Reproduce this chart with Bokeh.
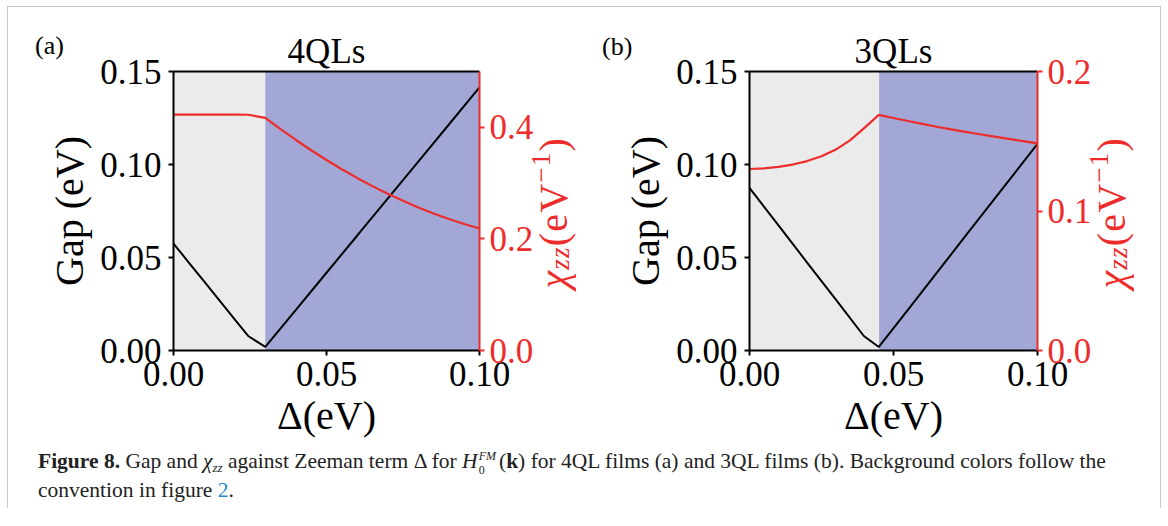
from bokeh.plotting import figure
from bokeh.models import LinearAxis, Range1d, FixedTicker, NumeralTickFormatter, Div
from bokeh.layouts import column, row
from bokeh.embed import file_html
from bokeh.resources import INLINE

# ---------------- data ----------------
x_lim = [0.0, 0.10]
gap_lim = [0.0, 0.15]
x_ticks = [0.0, 0.05, 0.10]
gap_ticks = [0.0, 0.05, 0.10, 0.15]

# panel (a) 4QLs
title_a = "4QLs"
boundary_a = 0.030
chi_lim_a = [0.0, 0.5]
chi_ticks_a = [0.0, 0.2, 0.4]
delta_gap_a = [0.0, 0.005, 0.010, 0.015, 0.020, 0.0244, 0.030, 0.040, 0.050, 0.060,
               0.070, 0.080, 0.090, 0.100]
gap_a = [0.0575, 0.0473, 0.0371, 0.0269, 0.0167, 0.0078, 0.0019, 0.0218, 0.0418, 0.0617,
         0.0817, 0.1016, 0.1215, 0.1415]
delta_chi_a = [0.0, 0.005, 0.010, 0.015, 0.020, 0.0244, 0.030, 0.035, 0.040, 0.045,
               0.050, 0.055, 0.060, 0.065, 0.070, 0.075, 0.080, 0.085, 0.090, 0.095, 0.100]
chi_a = [0.4228, 0.4228, 0.4228, 0.4228, 0.4227, 0.4225, 0.4170, 0.3967, 0.3773, 0.3589,
         0.3414, 0.3249, 0.3093, 0.2946, 0.2810, 0.2682, 0.2564, 0.2456, 0.2357, 0.2267, 0.2187]

# panel (b) 3QLs
title_b = "3QLs"
boundary_b = 0.045
chi_lim_b = [0.0, 0.2]
chi_ticks_b = [0.0, 0.1, 0.2]
delta_gap_b = [0.0, 0.010, 0.020, 0.030, 0.0397, 0.0449, 0.055, 0.065, 0.075, 0.085, 0.100]
gap_b = [0.0874, 0.0674, 0.0473, 0.0273, 0.0078, 0.0019, 0.0219, 0.0417, 0.0616, 0.0814, 0.1111]
delta_chi_b = [0.0, 0.005, 0.010, 0.015, 0.020, 0.025, 0.030, 0.035, 0.040, 0.0449,
               0.050, 0.055, 0.060, 0.065, 0.070, 0.075, 0.080, 0.085, 0.090, 0.095, 0.100]
chi_b = [0.1301, 0.1305, 0.1316, 0.1333, 0.1358, 0.1392, 0.1440, 0.1508, 0.1598, 0.1689,
         0.1667, 0.1645, 0.1624, 0.1604, 0.1585, 0.1567, 0.1550, 0.1533, 0.1517, 0.1501, 0.1485]

# ---------------- style ----------------
FONT = "Liberation Serif"
RED = "#EE2C2C"
GRAY = "#EBEBEB"
BLUE = "#A2A7D5"
PANEL_H = 441


def style_axis(ax, color="black"):
    ax.axis_line_color = color
    ax.axis_line_width = 2
    ax.major_tick_line_color = color
    ax.major_tick_line_width = 2
    ax.major_tick_in = 0
    ax.major_tick_out = 5
    ax.minor_tick_line_color = None
    ax.major_label_text_font = FONT
    ax.major_label_text_font_size = "35px"
    ax.major_label_text_color = color
    ax.axis_label_text_font = FONT
    ax.axis_label_text_font_size = "40px"
    ax.axis_label_text_font_style = "normal"
    ax.axis_label_text_color = color


def panel(title, dg, g, dc, c, boundary, chi_lim, chi_ticks, bl, fw, br):
    p = figure(width=bl + fw + br, height=PANEL_H, title=title,
               x_range=Range1d(x_lim[0], x_lim[1]), y_range=Range1d(gap_lim[0], gap_lim[1]),
               x_axis_type=None, y_axis_type=None,
               output_backend="svg", toolbar_location=None,
               min_border_left=bl, min_border_right=br, min_border_top=64, min_border_bottom=98)
    p.extra_y_ranges = {"chi": Range1d(chi_lim[0], chi_lim[1])}
    p.outline_line_color = None
    p.background_fill_color = "white"
    p.border_fill_color = "white"
    p.title.align = "center"
    p.title.text_font = FONT
    p.title.text_font_size = "35px"
    p.title.text_font_style = "normal"
    p.title.text_color = "black"
    p.title.standoff = 2

    # phase background regions
    p.quad(left=[x_lim[0], boundary], right=[boundary, x_lim[1]],
           bottom=gap_lim[0], top=gap_lim[1], fill_color=[GRAY, BLUE], line_color=None)

    p.line(dg, g, line_color="black", line_width=2)
    p.line(dc, c, line_color=RED, line_width=2.2, y_range_name="chi")

    xa = LinearAxis(ticker=FixedTicker(ticks=x_ticks), formatter=NumeralTickFormatter(format="0.00"),
                    axis_label="Δ(eV)")
    style_axis(xa)
    xa.major_label_standoff = 6
    xa.axis_label_standoff = 4
    p.add_layout(xa, "below")

    ya = LinearAxis(ticker=FixedTicker(ticks=gap_ticks), formatter=NumeralTickFormatter(format="0.00"),
                    axis_label="Gap (eV)")
    style_axis(ya)
    ya.major_label_standoff = 7
    ya.axis_label_standoff = 5
    p.add_layout(ya, "left")

    ra = LinearAxis(y_range_name="chi", ticker=FixedTicker(ticks=chi_ticks),
                    formatter=NumeralTickFormatter(format="0.0"))
    style_axis(ra, RED)
    ra.major_label_standoff = 5
    p.add_layout(ra, "right")

    ta = LinearAxis(ticker=FixedTicker(ticks=[]))
    style_axis(ta)
    ta.major_tick_out = 0
    ta.major_label_standoff = 0
    ta.major_label_text_font_size = "0px"
    p.add_layout(ta, "above")
    return p


def chi_label(width):
    html = (
        f'<div style="position:relative;width:{width}px;height:{PANEL_H}px;">'
        f'<div style="position:absolute;left:-6px;bottom:160px;writing-mode:vertical-rl;'
        f'transform:rotate(180deg);font-family:\'{FONT}\';font-size:40px;line-height:1;'
        f'letter-spacing:1.2px;color:{RED};white-space:nowrap;">'
        '<i>χ</i><span style="font-size:27px;line-height:0;vertical-align:-6px;"><i>zz</i></span>'
        '(eV<span style="font-size:27px;line-height:0;vertical-align:13px;">−1</span>)'
        '</div></div>')
    return Div(width=width, height=PANEL_H, margin=(0, 0, 0, 0), text=html)


pa = panel(title_a, delta_gap_a, gap_a, delta_chi_a, chi_a, boundary_a, chi_lim_a, chi_ticks_a,
           165, 306, 61)
ca = chi_label(52)
pb = panel(title_b, delta_gap_b, gap_b, delta_chi_b, chi_b, boundary_b, chi_lim_b, chi_ticks_b,
           157, 288, 61)
cb = chi_label(62)

tag_style = ("position:absolute;font-family:'Liberation Serif';font-size:26px;line-height:1;"
             "color:#000;white-space:nowrap;")
caption = Div(width=1150, height=60, margin=(0, 0, 0, 0), text=(
    '<div style="position:relative;width:1150px;height:60px;">'
    f'<div style="{tag_style}left:27px;top:-415px;">(a)</div>'
    f'<div style="{tag_style}left:594px;top:-414px;">(b)</div>'
    '<div style="font-family:\'Liberation Serif\';font-size:21.5px;line-height:27px;color:#222;'
    'padding-left:30px;white-space:nowrap;">'
    '<b>Figure 8.</b> Gap and <i>χ</i><span style="font-size:13px;position:relative;top:4px;"><i>zz</i></span>'
    ' against Zeeman term Δ for <i>H</i>'
    '<span style="display:inline-block;font-size:12px;line-height:14px;vertical-align:-6px;'
    'margin-left:1px;margin-right:3px;">'
    '<i>FM</i><br>0</span>(<b>k</b>) for 4QL films (a) and 3QL films (b). Background colors follow the<br>'
    'convention in figure <span style="color:#2a8ac8;">2</span>.</div></div>'))

layout = column(row(pa, ca, pb, cb), caption, margin=(6, 0, 0, 7),
                styles={"border-top": "1px solid #c8c8c8", "border-left": "1px solid #c8c8c8",
                        "border-right": "1px solid #c8c8c8"})

open("out.html", "w").write(file_html(layout, INLINE))
